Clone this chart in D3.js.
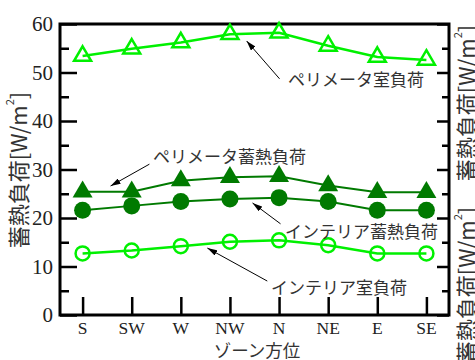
<!DOCTYPE html>
<html>
<head>
<meta charset="utf-8">
<script src="https://cdn.jsdelivr.net/npm/d3@7"></script>
<style>
  html, body { margin: 0; padding: 0; background: #fff; }
  svg { display: block; }
</style>
</head>
<body>
<svg id="chart" width="475" height="360"></svg>
<script>
// Zone orientations along the x axis
const zones = ["S", "SW", "W", "NW", "N", "NE", "E", "SE"];

// Load per zone [W/m²]
const perimeterRoom    = [53.4, 54.9, 56.2, 57.9, 58.2, 55.5, 53.2, 52.6]; // ペリメータ室負荷
const perimeterStorage = [25.4, 25.4, 27.7, 28.4, 28.6, 26.7, 25.3, 25.3]; // ペリメータ蓄熱負荷
const interiorStorage  = [21.6, 22.5, 23.4, 23.9, 24.2, 23.4, 21.6, 21.6]; // インテリア蓄熱負荷
const interiorRoom     = [12.7, 13.3, 14.2, 15.1, 15.4, 14.4, 12.7, 12.7]; // インテリア室負荷

const yTicks = [0, 10, 20, 30, 40, 50, 60];
const yMinorTicks = [5, 15, 25, 35, 45, 55];

(function () {
const svg = d3.select("#chart");
const W = 475, H = 360;
const pLeft = 60, pRight = 449, pTop = 24, pBottom = 315;

const x = d3.scalePoint().domain(zones).range([pLeft, pRight]).padding(0.46);
const y = d3.scaleLinear().domain([0, 60]).range([pBottom, pTop]);
// fractional zone index -> pixel, for placing annotation arrows between zones
const xi = d3.scaleLinear().domain([0, zones.length - 1]).range([x(zones[0]), x(zones[zones.length - 1])]);

const light = "#00f000", dark = "#007a00";

svg.append("rect").attr("width", W).attr("height", H).attr("fill", "#fff");

const serif = "'Liberation Serif', 'Times New Roman', serif";
const jp = "'Noto Sans CJK JP', 'Noto Sans', sans-serif";

// ---- axes ----
const axisStroke = 2.5;
// left axis: inward ticks
const gL = svg.append("g").attr("transform", `translate(${pLeft},0)`)
  .call(d3.axisRight(y).tickValues(yTicks).tickSize(17).tickFormat(""));
gL.append("g").call(d3.axisRight(y).tickValues(yMinorTicks).tickSize(9).tickFormat(""));
// right axis: inward ticks
const gR = svg.append("g").attr("transform", `translate(${pRight},0)`)
  .call(d3.axisLeft(y).tickValues(yTicks).tickSize(12).tickFormat(""));
gR.append("g").call(d3.axisLeft(y).tickValues(yMinorTicks).tickSize(7).tickFormat(""));
// bottom axis: inward ticks at each zone
const gB = svg.append("g").attr("transform", `translate(0,${pBottom})`)
  .call(d3.axisTop(x).tickSize(18).tickFormat(""));
[gL, gR, gB].forEach(g => {
  g.selectAll(".domain").remove();
  g.selectAll("line").attr("stroke", "#000").attr("stroke-width", axisStroke);
});

// y tick labels
svg.append("g").selectAll("text").data(yTicks).join("text")
  .attr("x", 53).attr("y", d => y(d))
  .attr("text-anchor", "end").attr("dominant-baseline", "central")
  .attr("font-family", serif).attr("font-size", 21).attr("fill", "#222")
  .text(d => d);

// x tick labels
svg.append("g").selectAll("text").data(zones).join("text")
  .attr("x", d => x(d)).attr("y", 328)
  .attr("text-anchor", "middle").attr("dominant-baseline", "central")
  .attr("font-family", serif).attr("font-size", 17.5).attr("fill", "#222")
  .text(d => d);

// frame
svg.append("rect")
  .attr("x", pLeft).attr("y", pTop).attr("width", pRight - pLeft).attr("height", pBottom - pTop)
  .attr("fill", "none").attr("stroke", "#000").attr("stroke-width", 3);

// x axis title
svg.append("text").attr("x", 257).attr("y", 349)
  .attr("text-anchor", "middle").attr("dominant-baseline", "central")
  .attr("font-family", jp).attr("font-size", 17.5).attr("fill", "#333")
  .text("ゾーン方位");

// y axis titles (left, and repeated at the right edge)
function yTitle(cx, cy) {
  const t = svg.append("text")
    .attr("transform", `translate(${cx},${cy}) rotate(-90)`)
    .attr("text-anchor", "middle").attr("dominant-baseline", "central")
    .attr("font-family", jp).attr("font-size", 22).attr("fill", "#333");
  t.append("tspan").text("蓄熱負荷[W/m");
  t.append("tspan").attr("font-size", 11).attr("dy", -8).text("2");
  t.append("tspan").attr("dy", 8).text("]");
}
yTitle(17, 170);
yTitle(465, 103);
yTitle(465, 285);

// ---- series ----
const series = [
  { values: interiorRoom,     color: light, marker: "circle",   filled: false, lw: 2.5 },
  { values: interiorStorage,  color: dark,  marker: "circle",   filled: true,  lw: 2 },
  { values: perimeterStorage, color: dark,  marker: "triangle", filled: true,  lw: 2 },
  { values: perimeterRoom,    color: light, marker: "triangle", filled: false, lw: 2.5 }
];

const line = d3.line().x((d, i) => x(zones[i])).y(d => y(d));

// triangle with its centroid on the data point
function triPath(w, h) {
  return `M0,${-2 * h / 3}L${w / 2},${h / 3}L${-w / 2},${h / 3}Z`;
}

series.forEach(s => {
  svg.append("path").datum(s.values)
    .attr("d", line).attr("fill", "none")
    .attr("stroke", s.color).attr("stroke-width", s.lw);
  const g = svg.append("g");
  const pts = g.selectAll("g").data(s.values).join("g")
    .attr("transform", (d, i) => `translate(${x(zones[i])},${y(d)})`);
  if (s.marker === "circle") {
    pts.append("circle")
      .attr("r", s.filled ? 8.5 : 7)
      .attr("fill", s.filled ? s.color : "none")
      .attr("stroke", s.color).attr("stroke-width", s.filled ? 0 : 2.5);
  } else {
    if (s.filled) {
      pts.append("path").attr("d", triPath(20, 17)).attr("fill", s.color);
    } else {
      pts.append("path").attr("d", triPath(17, 14.5))
        .attr("fill", "none").attr("stroke", s.color).attr("stroke-width", 2.5)
        .attr("stroke-linejoin", "miter");
    }
  }
});

// ---- annotations ----
const defs = svg.append("defs");
defs.append("marker").attr("id", "ah")
  .attr("viewBox", "0 0 10 6").attr("refX", 10).attr("refY", 3)
  .attr("markerWidth", 10).attr("markerHeight", 6)
  .attr("markerUnits", "userSpaceOnUse").attr("orient", "auto")
  .append("path").attr("d", "M0,0L10,3L0,6Z").attr("fill", "#000");

const notes = [
  { text: "ペリメータ室負荷",   from: [4.01, 48.7], to: [3.34, 56.5], tx: 288, ty: 78 },
  { text: "ペリメータ蓄熱負荷", from: [1.36, 31.1], to: [0.57, 26.6], tx: 153, ty: 155 },
  { text: "インテリア蓄熱負荷", from: [4.03, 18.8], to: [3.46, 23.1], tx: 285, ty: 230 },
  { text: "インテリア室負荷",   from: [3.76, 7.0],  to: [2.54, 13.8], tx: 271, ty: 286 }
];

notes.forEach(n => {
  svg.append("line")
    .attr("x1", xi(n.from[0])).attr("y1", y(n.from[1]))
    .attr("x2", xi(n.to[0])).attr("y2", y(n.to[1]))
    .attr("stroke", "#000").attr("stroke-width", 1)
    .attr("marker-end", "url(#ah)");
  svg.append("text").attr("x", n.tx).attr("y", n.ty)
    .attr("dominant-baseline", "central")
    .attr("font-family", jp).attr("font-size", 17).attr("fill", "#333")
    .text(n.text);
});
})();
</script>
</body>
</html>
